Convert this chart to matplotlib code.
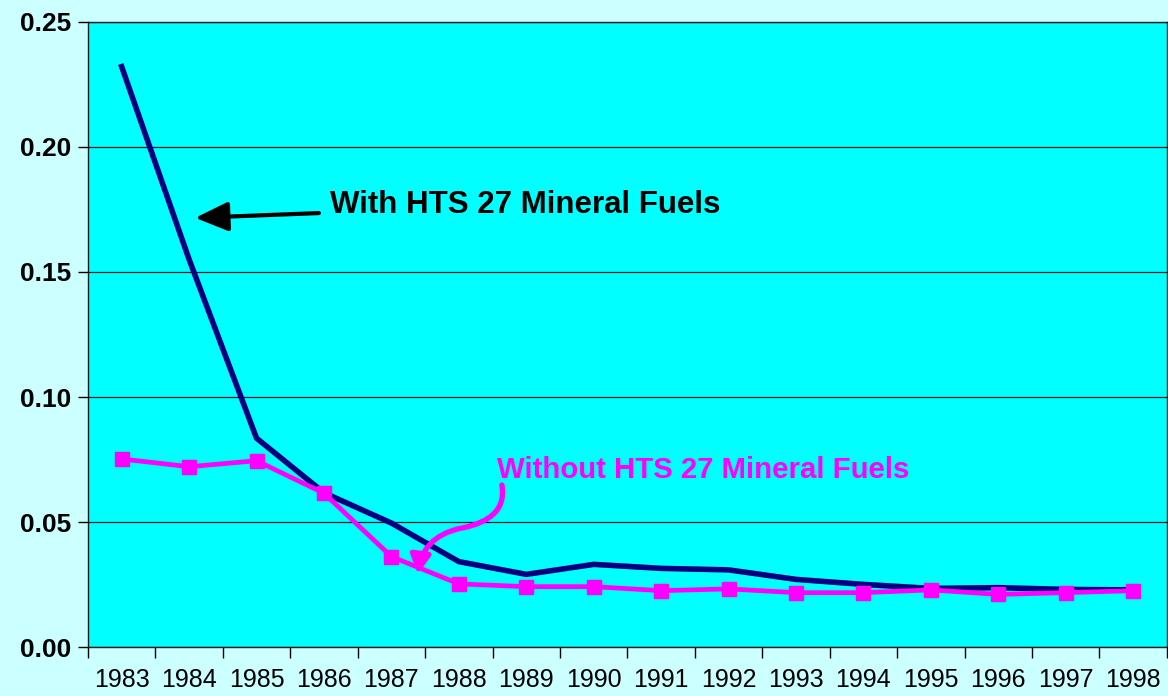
import numpy as np
import matplotlib
matplotlib.use('Agg')
from matplotlib import pyplot as plt
from matplotlib.path import Path
from matplotlib.patches import FancyArrowPatch

# data
years = ['1983', '1984', '1985', '1986', '1987', '1988', '1989', '1990',
         '1991', '1992', '1993', '1994', '1995', '1996', '1997', '1998']
with_fuels = [0.232, 0.155, 0.0836, 0.0618, 0.0497, 0.0343, 0.0292, 0.0332,
              0.0316, 0.0310, 0.0272, 0.0252, 0.0236, 0.0239, 0.0232, 0.0230]
without_fuels = [0.0753, 0.0722, 0.0746, 0.0616, 0.0363, 0.0254, 0.0243, 0.0243,
                 0.0227, 0.0234, 0.0219, 0.0219, 0.0230, 0.0212, 0.0219, 0.0227]
y_ticks = [0.00, 0.05, 0.10, 0.15, 0.20, 0.25]

plt.rcParams['font.family'] = ['Liberation Sans', 'DejaVu Sans']

fig = plt.figure(figsize=(11.68, 6.96), dpi=100, facecolor='#CCFFFF')
ax = fig.add_axes([0.0753, 0.0697, 0.9237, 0.8993])
ax.set_facecolor('#00FFFF')

x = np.arange(len(years))
ax.plot(x, with_fuels, color='#000080', lw=4.0, solid_joinstyle='miter', zorder=3)
ax.plot(x, without_fuels, color='#FF00FF', lw=3.4, marker='s', markersize=10,
        markeredgecolor='#FF00FF', zorder=4)

ax.set_xlim(-0.5, len(years) - 0.5)
ax.set_ylim(0, 0.25)

# y axis
ax.set_yticks(y_ticks)
ax.set_yticklabels(['%.2f' % v for v in y_ticks], fontsize=19, fontweight='bold')
ax.yaxis.grid(True, color='#1a1a1a', lw=0.9)
ax.tick_params(axis='y', direction='out', length=7, width=1, pad=5)

# x axis: labels at centres, tick marks at category boundaries
ax.set_xticks(x)
ax.set_xticklabels(years, fontsize=18)
ax.set_xticks(np.arange(-0.5, len(years), 1.0), minor=True)
ax.tick_params(axis='x', which='major', length=0, pad=15)
ax.tick_params(axis='x', which='minor', direction='out', length=8, width=1)
ax.set_axisbelow(True)

for s in ax.spines.values():
    s.set_color('#1a1a1a')
    s.set_linewidth(1)

# annotations
ax.annotate('With HTS 27 Mineral Fuels', xy=(1.09, 0.1716), xytext=(3.09, 0.1767),
            fontsize=22.5, fontweight='bold', color='black', va='center', ha='left',
            arrowprops=dict(arrowstyle='-|>,head_length=0.9,head_width=0.4',
                            color='black', lw=3, shrinkA=6, shrinkB=0))
ax.text(5.565, 0.0709, 'Without HTS 27 Mineral Fuels', fontsize=21.2,
        fontweight='bold', color='#FF00FF', va='center', ha='left')

# curved magenta arrow (pixel points from the picture, mapped to data)
def px2data(px, py):
    return ((px - 88) / 67.44 - 0.5, (647.5 - py) * 0.05 / 125.2)

pts = [px2data(*p) for p in [(502, 485), (506, 508), (492, 522), (462, 528),
                             (432, 534), (421, 552), (418, 574)]]
codes = [Path.MOVETO] + [Path.CURVE4] * 6
arrow = FancyArrowPatch(path=Path(pts, codes),
                        arrowstyle='-|>,head_length=11,head_width=6',
                        color='#FF00FF', lw=3.8, zorder=5,
                        transform=ax.transData)
ax.add_patch(arrow)

fig.savefig('out.png', dpi=100, facecolor=fig.get_facecolor())
